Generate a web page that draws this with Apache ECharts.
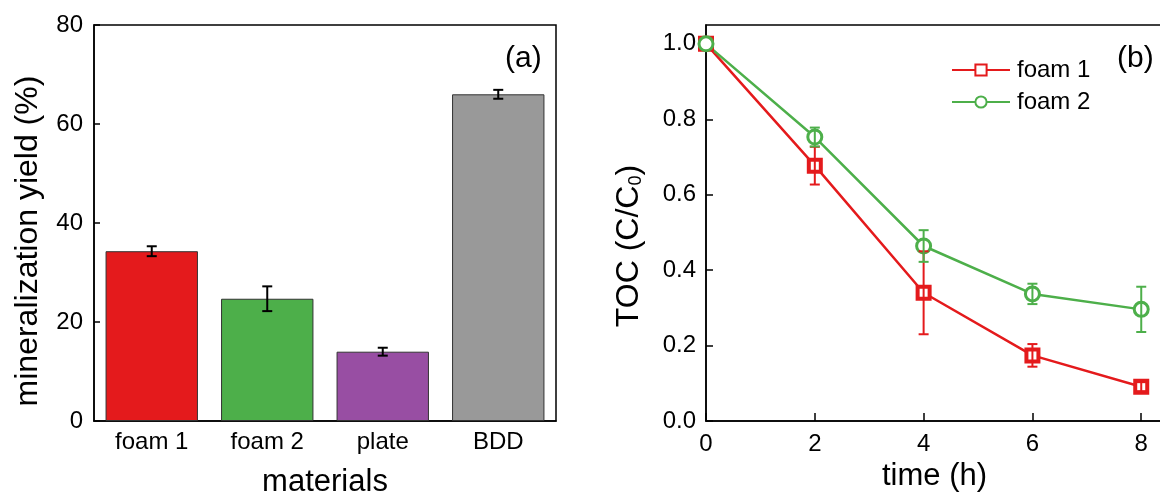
<!DOCTYPE html>
<html>
<head>
<meta charset="utf-8">
<script src="https://cdn.jsdelivr.net/npm/echarts@6/dist/echarts.min.js"></script>
<style>html,body{margin:0;padding:0;background:#fff}#c{width:1160px;height:493px}</style>
</head>
<body>
<div id="c"></div>
<script>
// ---- data ----
const materials = ['foam 1', 'foam 2', 'plate', 'BDD'];
const yieldVals = [34.3, 24.7, 14.0, 66.0];
const yieldErr = [1.0, 2.5, 0.8, 0.9];
const barColors = ['#E41A1C', '#4DAF4A', '#984EA3', '#999999'];
const yieldTicks = [0, 20, 40, 60, 80];

const timeH = [0, 2, 4, 6, 8];
const foam1TOC = [1.0, 0.677, 0.34, 0.174, 0.091];
const foam1Err = [0.0, 0.05, 0.11, 0.03, 0.012];
const foam2TOC = [1.0, 0.753, 0.464, 0.337, 0.296];
const foam2Err = [0.0, 0.025, 0.042, 0.027, 0.06];
const seriesNames = ['foam 1', 'foam 2'];
const lineColors = ['#E41A1C', '#4DAF4A'];

const FONT = '"Liberation Sans", Arial, sans-serif';

function errRender(color, cap, lw) {
  return function (params, api) {
    const x = api.value(0), y = api.value(1), e = api.value(2);
    if (!e) return null;
    const t = api.coord([x, y + e]);
    const b = api.coord([x, y - e]);
    const st = { stroke: color, lineWidth: lw };
    return {
      type: 'group',
      children: [
        { type: 'line', shape: { x1: t[0], y1: t[1], x2: b[0], y2: b[1] }, style: st },
        { type: 'line', shape: { x1: t[0] - cap, y1: t[1], x2: t[0] + cap, y2: t[1] }, style: st },
        { type: 'line', shape: { x1: b[0] - cap, y1: b[1], x2: b[0] + cap, y2: b[1] }, style: st }
      ]
    };
  };
}

const chart = echarts.init(document.getElementById('c'));
const option = {
  animation: false,
  backgroundColor: '#fff',
  textStyle: { fontFamily: FONT },
  grid: [
    { left: 94, top: 25, width: 462, height: 396, show: true, borderColor: '#000', borderWidth: 1.5,
      backgroundColor: 'transparent', containLabel: false, outerBoundsMode: 'none' },
    { left: 706, top: 25, width: 457, height: 396, show: true, borderColor: '#000', borderWidth: 1.5,
      backgroundColor: 'transparent', containLabel: false, outerBoundsMode: 'none' }
  ],
  xAxis: [
    {
      gridIndex: 0, type: 'category', data: materials,
      axisLine: { lineStyle: { color: '#000', width: 1.5 } },
      axisTick: { show: false },
      axisLabel: { color: '#000', fontSize: 24, margin: 9, fontFamily: FONT },
      name: 'materials', nameLocation: 'middle', nameGap: 46,
      nameTextStyle: { color: '#000', fontSize: 31, fontFamily: FONT }
    },
    {
      gridIndex: 1, type: 'value', min: 0, max: 8.4, interval: 2,
      axisLine: { lineStyle: { color: '#000', width: 1.5 } },
      axisTick: { inside: true, length: 8, lineStyle: { color: '#000', width: 1.5 } },
      axisLabel: { color: '#000', fontSize: 24, margin: 11, fontFamily: FONT, showMaxLabel: false },
      splitLine: { show: false },
      name: 'time (h)', nameLocation: 'middle', nameGap: 37,
      nameTextStyle: { color: '#000', fontSize: 31, fontFamily: FONT }
    }
  ],
  yAxis: [
    {
      gridIndex: 0, type: 'value', min: yieldTicks[0], max: yieldTicks[yieldTicks.length - 1], interval: 20,
      axisLine: { show: true, lineStyle: { color: '#000', width: 1.5 } },
      axisTick: { show: true, inside: true, length: 6, lineStyle: { color: '#000', width: 1.5 } },
      axisLabel: { color: '#000', fontSize: 24, margin: 11, fontFamily: FONT },
      splitLine: { show: false },
      name: 'mineralization yield (%)', nameLocation: 'middle', nameGap: 50, nameRotate: 90,
      nameTextStyle: { color: '#000', fontSize: 32, fontFamily: FONT, padding: [0, 36, 0, 0] }
    },
    {
      gridIndex: 1, type: 'value', min: 0, max: 1.05, interval: 0.2,
      axisLine: { show: true, lineStyle: { color: '#000', width: 1.5 } },
      axisTick: { show: true, inside: true, length: 7, lineStyle: { color: '#000', width: 1.5 } },
      axisLabel: { color: '#000', fontSize: 24, margin: 10, fontFamily: FONT, showMaxLabel: false,
        formatter: v => v.toFixed(1) },
      splitLine: { show: false },
      name: 'TOC (C/C{sub|0})', nameLocation: 'middle', nameGap: 61, nameRotate: 90,
      nameTextStyle: { color: '#000', fontSize: 32, fontFamily: FONT, padding: [0, 46, 0, 0],
        rich: { sub: { fontSize: 18, fontFamily: FONT, color: '#000', verticalAlign: 'bottom', padding: [8, 0, 0, 0] } } }
    }
  ],
  legend: {
    data: seriesNames,
    orient: 'vertical', left: 946, top: 53,
    itemWidth: 58, itemHeight: 14, itemGap: 8,
    textStyle: { color: '#000', fontSize: 24, fontFamily: FONT, padding: [0, 0, 0, 2] }
  },
  graphic: [
    { type: 'text', left: 505, top: 44, style: { text: '(a)', fontSize: 30, fontFamily: FONT, fill: '#000' } },
    { type: 'text', left: 1117, top: 44, style: { text: '(b)', fontSize: 30, fontFamily: FONT, fill: '#000' } }
  ],
  series: [
    {
      type: 'bar', xAxisIndex: 0, yAxisIndex: 0, barWidth: '80%',
      data: yieldVals,
      itemStyle: { color: p => barColors[p.dataIndex], borderColor: '#333', borderWidth: 1 }
    },
    {
      type: 'custom', xAxisIndex: 0, yAxisIndex: 0, z: 5,
      renderItem: errRender('#000', 5, 2),
      encode: { x: 0, y: 1 },
      data: materials.map((m, i) => [i, yieldVals[i], yieldErr[i]])
    },
    {
      name: seriesNames[0], type: 'line', xAxisIndex: 1, yAxisIndex: 1,
      data: timeH.map((t, i) => [t, foam1TOC[i]]),
      symbol: 'rect', symbolSize: 12,
      lineStyle: { color: lineColors[0], width: 2.5 },
      itemStyle: { color: '#fff', borderColor: lineColors[0], borderWidth: 4 },
      color: lineColors[0]
    },
    {
      name: seriesNames[1], type: 'line', xAxisIndex: 1, yAxisIndex: 1,
      data: timeH.map((t, i) => [t, foam2TOC[i]]),
      symbol: 'circle', symbolSize: 14,
      lineStyle: { color: lineColors[1], width: 2.5 },
      itemStyle: { color: '#fff', borderColor: lineColors[1], borderWidth: 3 },
      color: lineColors[1]
    },
    {
      type: 'custom', xAxisIndex: 1, yAxisIndex: 1, z: 5,
      renderItem: errRender(lineColors[0], 5, 2),
      encode: { x: 0, y: 1 },
      data: timeH.map((t, i) => [t, foam1TOC[i], foam1Err[i]])
    },
    {
      type: 'custom', xAxisIndex: 1, yAxisIndex: 1, z: 5,
      renderItem: errRender(lineColors[1], 5, 2),
      encode: { x: 0, y: 1 },
      data: timeH.map((t, i) => [t, foam2TOC[i], foam2Err[i]])
    }
  ]
};
chart.setOption(option);
</script>
</body>
</html>
